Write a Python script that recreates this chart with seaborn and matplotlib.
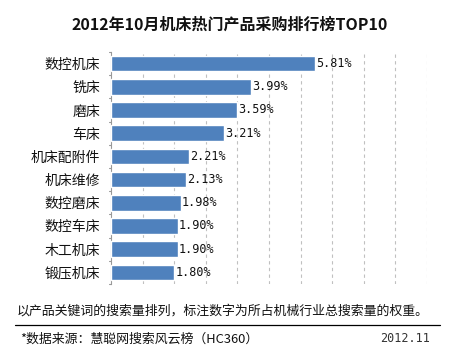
import seaborn as sns
import matplotlib.pyplot as plt
import pandas as pd
import numpy as np

categories = ['数控机床', '铣床', '磨床', '车床', '机床配附件', '机床维修',
              '数控磨床', '数控车床', '木工机床', '锻压机床']
values = [5.81, 3.99, 3.59, 3.21, 2.21, 2.13, 1.98, 1.90, 1.90, 1.80]
value_labels = ['5.81%', '3.99%', '3.59%', '3.21%', '2.21%', '2.13%',
                '1.98%', '1.90%', '1.90%', '1.80%']

title = '2012年10月机床热门产品采购排行榜TOP10'
note = '以产品关键词的搜索量排列，标注数字为所占机械行业总搜索量的权重。'
source = '*数据来源：慧聪网搜索风云榜（HC360）'
date = '2012.11'

sns.set_style('white')
plt.rcParams['font.family'] = ['Noto Sans CJK SC', 'DejaVu Sans']

df = pd.DataFrame({'cat': categories, 'val': values})

fig = plt.figure(figsize=(4.59, 3.56), dpi=100)
ax = fig.add_axes([111 / 459, 1 - 284 / 356, 316 / 459, 232 / 356])

sns.barplot(data=df, x='val', y='cat', color='#4F81BD', saturation=1,
            width=0.67, ax=ax, zorder=3)

ax.set_xlim(0, 9)
ax.set_ylim(9.5, -0.5)
for gx in np.arange(0.9, 9.01, 0.9):
    ax.axvline(gx, color='#c0c0c0', lw=0.8, ls=(0, (3, 3)), zorder=1)

for i, (v, lab) in enumerate(zip(values, value_labels)):
    ax.text(v + 0.04, i, lab, va='center', ha='left', fontsize=8.5,
            family='DejaVu Sans Mono', color='#111111')

ax.set_xlabel('')
ax.set_ylabel('')
ax.set_xticks([])
ax.tick_params(axis='y', length=0, pad=8, labelsize=10, colors='#111111')
for s in ['top', 'right', 'bottom']:
    ax.spines[s].set_visible(False)
ax.spines['left'].set_color('#999999')
ax.spines['left'].set_linewidth(0.8)
# small ticks between categories on the left axis
for b in np.arange(-0.5, 9.6, 1.0):
    ax.plot([-0.07, 0], [b, b], color='#999999', lw=0.8, clip_on=False)

fig.text(0.5, 1 - 25 / 356, title, ha='center', va='center',
         fontsize=11.5, fontweight='bold', color='#111111')
fig.text(17 / 459, 1 - 311 / 356, note, ha='left', va='center',
         fontsize=9.3, color='#111111')
fig.lines.append(plt.Line2D([15 / 459, 440 / 459], [1 - 325 / 356, 1 - 325 / 356],
                            transform=fig.transFigure, color='black', lw=0.9))
fig.text(20 / 459, 1 - 339 / 356, source, ha='left', va='center',
         fontsize=9.3, color='#111111')
fig.text(430 / 459, 1 - 339 / 356, date, ha='right', va='center',
         fontsize=8.5, family='DejaVu Sans Mono', color='#333333')

plt.savefig('out.png', dpi=100)
